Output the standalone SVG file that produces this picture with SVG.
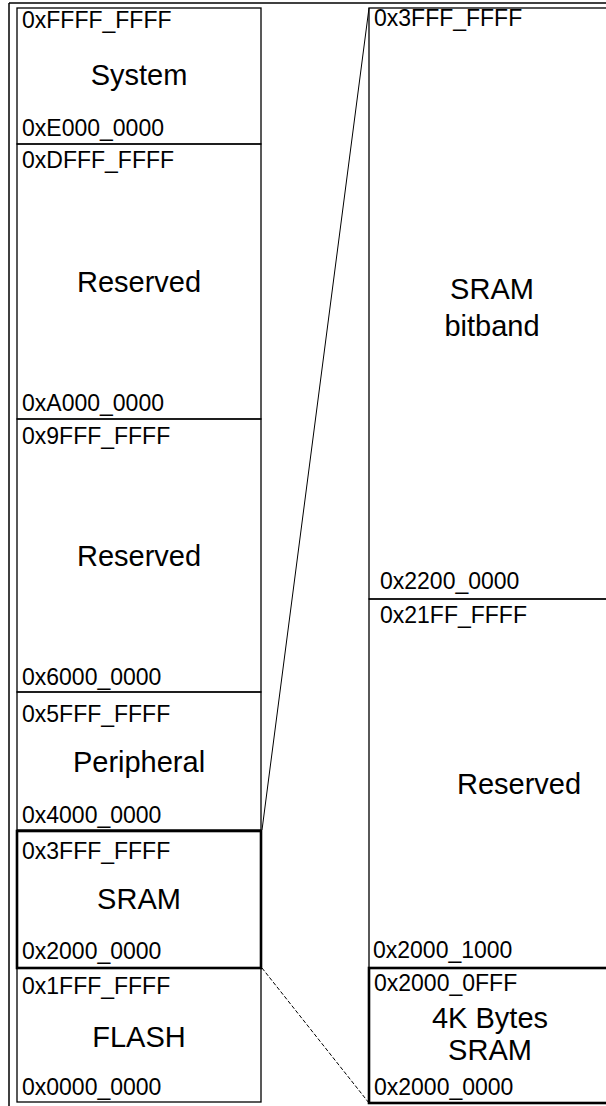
<svg xmlns="http://www.w3.org/2000/svg" width="606" height="1106" viewBox="0 0 606 1106">
<style>
.box{fill:none;stroke:#000;stroke-width:1.3}
.thick{fill:none;stroke:#000;stroke-width:2.6}
.addr{font-family:"Liberation Sans",Arial,sans-serif;font-size:23px;fill:#000}
.lbl{font-family:"Liberation Sans",Arial,sans-serif;font-size:29px;fill:#000;text-anchor:middle}
</style>
<rect width="606" height="1106" fill="#fff"/>
<g id="frame">
<line x1="9" y1="3" x2="606" y2="3" stroke="#000" stroke-width="1.5"/>
<line x1="9" y1="3" x2="9" y2="1106" stroke="#000" stroke-width="1.5"/>
</g>
<g id="connectors">
<line x1="262" y1="830" x2="369" y2="8" stroke="#000" stroke-width="1"/>
<line x1="262" y1="968" x2="369" y2="1103" stroke="#000" stroke-width="1" stroke-dasharray="4,2"/>
</g>
<g id="system">
<rect class="box" x="17" y="8" width="244" height="136"/>
<text class="addr" x="22" y="28">0xFFFF_FFFF</text>
<text class="lbl" x="139" y="85">System</text>
<text class="addr" x="22" y="136">0xE000_0000</text>
</g>
<g id="reserved1">
<rect class="box" x="17" y="144" width="244" height="275"/>
<text class="addr" x="22" y="168">0xDFFF_FFFF</text>
<text class="lbl" x="139" y="292">Reserved</text>
<text class="addr" x="22" y="411">0xA000_0000</text>
</g>
<g id="reserved2">
<rect class="box" x="17" y="419" width="244" height="273"/>
<text class="addr" x="22" y="444">0x9FFF_FFFF</text>
<text class="lbl" x="139" y="566">Reserved</text>
<text class="addr" x="22" y="685">0x6000_0000</text>
</g>
<g id="peripheral">
<rect class="box" x="17" y="692" width="244" height="138"/>
<text class="addr" x="22" y="722">0x5FFF_FFFF</text>
<text class="lbl" x="139" y="772">Peripheral</text>
<text class="addr" x="22" y="823">0x4000_0000</text>
</g>
<g id="flash">
<rect class="box" x="17" y="968" width="244" height="134"/>
<text class="addr" x="22" y="994">0x1FFF_FFFF</text>
<text class="lbl" x="139" y="1047">FLASH</text>
<text class="addr" x="22" y="1095">0x0000_0000</text>
</g>
<g id="sram">
<rect class="thick" x="17" y="831" width="244" height="137"/>
<text class="addr" x="22" y="859">0x3FFF_FFFF</text>
<text class="lbl" x="139" y="909">SRAM</text>
<text class="addr" x="22" y="959">0x2000_0000</text>
</g>
<g id="sram-bitband">
<rect class="box" x="369" y="8" width="245" height="591"/>
<text class="addr" x="374" y="26">0x3FFF_FFFF</text>
<text class="lbl" x="492" y="299">SRAM</text>
<text class="lbl" x="492" y="336">bitband</text>
<text class="addr" x="380" y="589">0x2200_0000</text>
</g>
<g id="reserved3">
<rect class="box" x="369" y="599" width="245" height="369"/>
<text class="addr" x="380" y="623">0x21FF_FFFF</text>
<text class="lbl" x="519" y="794">Reserved</text>
<text class="addr" x="373" y="958">0x2000_1000</text>
</g>
<g id="sram-4k">
<rect class="thick" x="369" y="968" width="245" height="135"/>
<text class="addr" x="374" y="991">0x2000_0FFF</text>
<text class="lbl" x="490" y="1028">4K Bytes</text>
<text class="lbl" x="490" y="1060">SRAM</text>
<text class="addr" x="374" y="1095">0x2000_0000</text>
</g>
</svg>
